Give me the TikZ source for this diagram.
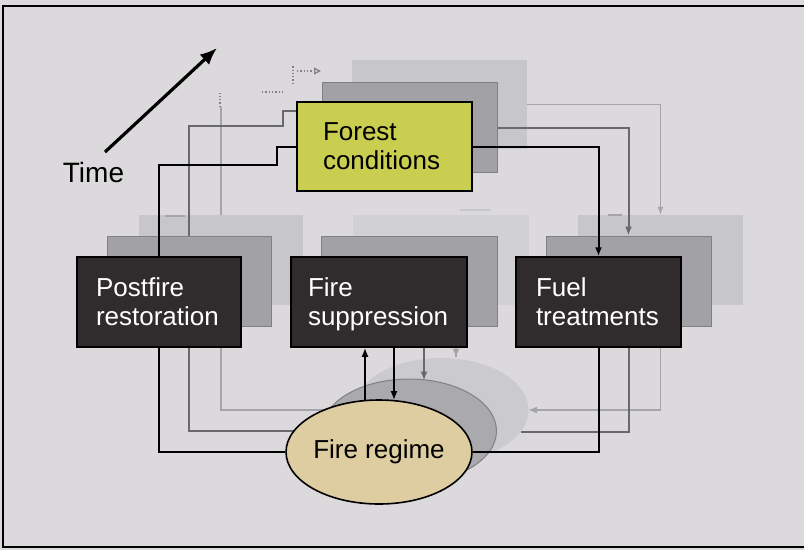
\documentclass[tikz,border=0pt]{standalone}
\usepackage{fontspec}
\setmainfont{Liberation Sans}
\usetikzlibrary{arrows.meta,shapes.geometric,calc}
\definecolor{bgc}{RGB}{219,217,219}
\definecolor{boxdark}{RGB}{48,44,46}
\definecolor{forestyel}{RGB}{202,206,80}
\definecolor{regimetan}{RGB}{222,205,160}
\definecolor{medbox}{RGB}{162,161,165}
\definecolor{medboxline}{RGB}{128,127,131}
\definecolor{litebox}{RGB}{199,198,201}
\definecolor{litebox2}{RGB}{209,208,211}
\definecolor{liteell}{RGB}{203,202,205}
\definecolor{medell}{RGB}{170,169,173}
\definecolor{medline}{RGB}{105,104,108}
\definecolor{liteline}{RGB}{165,164,168}
\definecolor{ghost}{RGB}{130,129,134}
\begin{document}
\begin{tikzpicture}[x=1pt,y=-1pt,
  boxtext/.style={font=\fontsize{26}{29}\selectfont, align=left, inner ysep=0pt, text depth=29pt},
  darkbox/.style={boxtext, rectangle, draw=black, line width=1.5pt, fill=boxdark, text=white, minimum height=90},
  yelbox/.style={boxtext, rectangle, draw=black, line width=1.5pt, fill=forestyel, text=black, minimum height=89},
  medrect/.style={rectangle, draw=medboxline, line width=1pt, fill=medbox, minimum width=#1, minimum height=90, inner sep=0pt},
  literect/.style={rectangle, fill=litebox, minimum width=#1, minimum height=90, inner sep=0pt},
  lite2rect/.style={rectangle, fill=litebox2, minimum width=#1, minimum height=90, inner sep=0pt},
  blk/.style={draw=black, line width=2pt},
  med/.style={draw=medline, line width=2pt},
  lite/.style={draw=liteline, line width=1.5pt},
  tipb/.style={-{Latex[length=9pt,width=7pt]}},
]
\useasboundingbox (0,0) rectangle (804,550);
\fill[bgc] (0,0) rectangle (804,550);
\draw[line width=1.2pt] (804,6) -- (3,6) -- (3,547) -- (804,547);

% ---------- light (oldest) layer ----------
\node[literect=175, minimum height=89] (fcl) at (439.5,104.5) {};
\node[literect=164] (prl) at (221,260) {};
\node[lite2rect=176] (fsl) at (441,260) {};
\node[literect=165] (ftl) at (660.5,260) {};

\draw[lite] (prl.north) -- (prl.north |- 0,107);
\draw[ghost, line width=1.3pt, dotted] (220,107) -- (220,93);
\draw[ghost, line width=1.3pt, dotted] (262,92) -- (285,92);
\draw[ghost, line width=1.3pt, dotted] (293,84) -- (293,66);
\draw[ghost, line width=1.3pt, dotted, -{Triangle[open,length=7pt,width=7pt]}] (297,71) -- (321,71);
\draw[lite, -{Latex[length=8pt,width=6pt]}] (fcl.east) -| (ftl.north);
\draw[lite] (prl.south) |- (fsl.south |- 0,410);
\draw[lite, -{Latex[length=9pt,width=7pt]}] (ftl.south) |- (528,410);
\draw[lite] ($(fsl.south)+(15,0)$) -- ($(fsl.south)+(15,52)$);
\draw[liteline, line width=1.2pt] (165,216) -- (185,216);
\draw[liteline, line width=1.2pt] (608,215) -- (622,215);
\draw[litebox, line width=1.2pt] (460,210) -- (490,210);

% ---------- medium layer ----------
\node[medrect=175] (fcm) at (409.5,127.5) {};
\node[medrect=164] (prm) at (189,281) {};
\node[medrect=176] (fsm) at (409,281) {};
\node[medrect=165] (ftm) at (628.5,281) {};

\draw[med] (ftm.south) |- (521,432);
\node[ellipse, fill=liteell, minimum width=175, minimum height=104, inner sep=0pt] (frl) at (441,410) {};
\draw[lite, tipb] ($(fsl.south)+(15,52)$) -- ($(frl.north)+(15,0)$);
\node[ellipse, draw=medboxline, line width=1pt, fill=medell, minimum width=175, minimum height=104, inner sep=0pt] (frm) at (409,431) {};

\draw[med] (prm.north) -- (prm.north |- 0,126) -- (283,126) -- (283,111) -- (fcm.west |- 0,111);
\draw[med, tipb] (fcm.east) -| (ftm.north);
\draw[med] (prm.south) |- (frm.west);
\draw[med, tipb] ($(fsm.south)+(15,0)$) -- ($(frm.north)+(15,2)$);

% ---------- front layer ----------
\node[yelbox, text width=123, inner xsep=26] (fc) at (384.5,146.5) {Forest\\conditions};
\node[darkbox, text width=126, inner xsep=19] (pr) at (159,302) {Postfire\\restoration};
\node[darkbox, text width=142, inner xsep=17] (fs) at (379,302) {Fire\\suppression};
\node[darkbox, text width=125, inner xsep=20] (ft) at (598.5,302) {Fuel\\treatments};
\node[ellipse, draw=black, line width=1.6pt, fill=regimetan, minimum width=175, minimum height=104, inner sep=0pt,
      font=\fontsize{26}{29}\selectfont] (fr) at (379,452) {Fire regime};

\draw[blk] (pr.north) -- (pr.north |- 0,165) -- (277,165) -- (277,0 |- fc.west) -- (fc.west);
\draw[blk, tipb] (fc.east) -| (ft.north);
\draw[blk] (pr.south) |- (fr.west);
\draw[blk] (ft.south) |- (fr.east);
\draw[blk, tipb] ($(fr.north)+(-14,1)$) -- ($(fs.south)+(-14,0)$);
\draw[blk, tipb] ($(fs.south)+(15,0)$) -- ($(fr.north)+(15,1)$);

% ---------- time arrow ----------
\coordinate (t0) at (105,152);
\coordinate (t1) at (217,48);
\draw[line width=3.2pt, -{Latex[length=17pt,width=14pt]}] (t0) -- (t1);
\node[anchor=base, font=\fontsize{28}{30}\selectfont, inner sep=0pt] (time) at (93.5,182) {Time};
\end{tikzpicture}
\end{document}
